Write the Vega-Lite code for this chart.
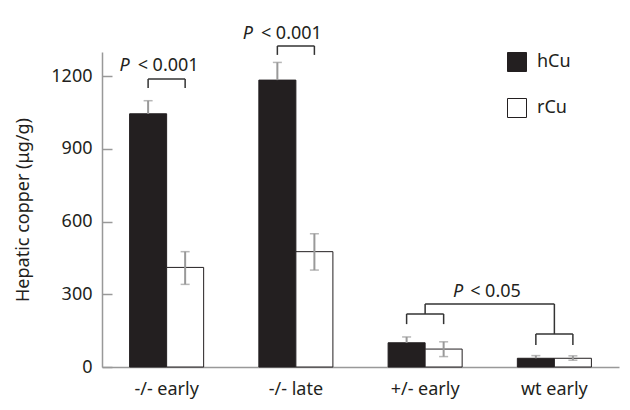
{
  "$schema": "https://vega.github.io/schema/vega-lite/v6.json",
  "width": 517,
  "height": 315,
  "autosize": {"type": "none"},
  "padding": {"left": 102, "top": 52, "right": 11, "bottom": 43},
  "background": "white",
  "config": {
    "view": {"stroke": null},
    "font": "Noto Sans",
    "axis": {"grid": false}
  },
  "datasets": {
    "bars": [
      {"group": "-/- early", "series": "hCu", "value": 1045, "lo": 1045, "hi": 1099},
      {"group": "-/- early", "series": "rCu", "value": 411, "lo": 341, "hi": 476},
      {"group": "-/- late", "series": "hCu", "value": 1184, "lo": 1184, "hi": 1257},
      {"group": "-/- late", "series": "rCu", "value": 476, "lo": 400, "hi": 550},
      {"group": "+/- early", "series": "hCu", "value": 100, "lo": 100, "hi": 124},
      {"group": "+/- early", "series": "rCu", "value": 74, "lo": 43, "hi": 104},
      {"group": "wt early", "series": "hCu", "value": 36, "lo": 36, "hi": 47},
      {"group": "wt early", "series": "rCu", "value": 36, "lo": 28, "hi": 46}
    ],
    "legs": [
      {"group": "-/- early", "series": "hCu", "y1": 1151, "y2": 1189},
      {"group": "-/- early", "series": "rCu", "y1": 1151, "y2": 1189},
      {"group": "-/- late", "series": "hCu", "y1": 1288, "y2": 1325},
      {"group": "-/- late", "series": "rCu", "y1": 1288, "y2": 1325},
      {"group": "+/- early", "series": "hCu", "y1": 177, "y2": 219},
      {"group": "+/- early", "series": "rCu", "y1": 177, "y2": 219},
      {"group": "wt early", "series": "hCu", "y1": 91, "y2": 136},
      {"group": "wt early", "series": "rCu", "y1": 91, "y2": 136}
    ],
    "tops": [
      {"group": "-/- early", "y": 1189},
      {"group": "-/- late", "y": 1325},
      {"group": "+/- early", "y": 219},
      {"group": "wt early", "y": 136}
    ],
    "stems": [
      {"group": "+/- early", "y1": 219, "y2": 260},
      {"group": "wt early", "y1": 136, "y2": 260}
    ],
    "span": [
      {"from": "+/- early", "to": "wt early", "y": 260}
    ],
    "pEarly": [{"group": "-/- early", "y": 1222, "p": "P", "rest": "< 0.001"}],
    "pLate": [{"group": "-/- late", "y": 1352, "p": "P", "rest": "< 0.001"}],
    "pHet": [{"group": "+/- early", "y": 290, "p": "P", "rest": "< 0.05"}]
  },
  "layer": [
    {
      "data": {"name": "bars"},
      "mark": {"type": "bar", "stroke": "#231f20", "strokeWidth": 1},
      "encoding": {
        "x": {
          "field": "group", "type": "nominal",
          "scale": {"domain": ["-/- early", "-/- late", "+/- early", "wt early"], "paddingInner": 0.427, "paddingOuter": 0.2135},
          "axis": {
            "title": null, "labelAngle": 0, "ticks": false, "labelPadding": 13,
            "labelFontSize": 18, "labelColor": "#231f20", "domainColor": "#999999", "domainWidth": 1.5
          }
        },
        "xOffset": {"field": "series", "type": "nominal", "scale": {"paddingInner": 0, "paddingOuter": 0}},
        "y": {
          "field": "value", "type": "quantitative",
          "scale": {"domain": [0, 1300], "nice": false},
          "axis": {
            "title": "Hepatic copper (μg/g)", "values": [0, 300, 600, 900, 1200], "format": "d",
            "tickSize": -10, "labelPadding": 20, "tickColor": "#999999", "tickWidth": 1.5,
            "domainColor": "#999999", "domainWidth": 1.5,
            "labelFontSize": 18, "labelColor": "#231f20",
            "titleFontSize": 18, "titleFontWeight": "normal", "titleColor": "#231f20",
            "titleX": -74, "titleBaseline": "alphabetic"
          }
        },
        "color": {
          "field": "series", "type": "nominal",
          "scale": {"domain": ["hCu", "rCu"], "range": ["#231f20", "#ffffff"]},
          "legend": {
            "title": null, "orient": "none", "legendX": 405, "legendY": 0,
            "symbolType": "square", "symbolSize": 361, "symbolStrokeColor": "#231f20",
            "symbolStrokeWidth": 1, "labelFontSize": 18, "labelColor": "#231f20",
            "labelOffset": 10, "rowPadding": 22, "padding": 0
          }
        }
      }
    },
    {
      "data": {"name": "bars"},
      "mark": {"type": "rule", "color": "#999999", "strokeWidth": 2},
      "encoding": {
        "x": {"field": "group", "type": "nominal"},
        "xOffset": {"field": "series", "type": "nominal"},
        "y": {"field": "lo", "type": "quantitative"},
        "y2": {"field": "hi"}
      }
    },
    {
      "data": {"name": "bars"},
      "mark": {"type": "tick", "color": "#999999", "size": 9, "thickness": 1.5},
      "encoding": {
        "x": {"field": "group", "type": "nominal"},
        "xOffset": {"field": "series", "type": "nominal"},
        "y": {"field": "hi", "type": "quantitative"}
      }
    },
    {
      "data": {"name": "bars"},
      "transform": [{"filter": "datum.series == 'rCu'"}],
      "mark": {"type": "tick", "color": "#999999", "size": 9, "thickness": 1.5},
      "encoding": {
        "x": {"field": "group", "type": "nominal"},
        "xOffset": {"field": "series", "type": "nominal"},
        "y": {"field": "lo", "type": "quantitative"}
      }
    },
    {
      "data": {"name": "legs"},
      "mark": {"type": "rule", "color": "#333333", "strokeWidth": 1.5},
      "encoding": {
        "x": {"field": "group", "type": "nominal"},
        "xOffset": {"field": "series", "type": "nominal"},
        "y": {"field": "y1", "type": "quantitative"},
        "y2": {"field": "y2"}
      }
    },
    {
      "data": {"name": "tops"},
      "mark": {"type": "rule", "color": "#333333", "strokeWidth": 1.5},
      "encoding": {
        "x": {"field": "group", "type": "nominal", "bandPosition": 0.25},
        "x2": {"field": "group", "bandPosition": 0.75},
        "y": {"field": "y", "type": "quantitative"}
      }
    },
    {
      "data": {"name": "stems"},
      "mark": {"type": "rule", "color": "#333333", "strokeWidth": 1.5},
      "encoding": {
        "x": {"field": "group", "type": "nominal", "bandPosition": 0.5},
        "y": {"field": "y1", "type": "quantitative"},
        "y2": {"field": "y2"}
      }
    },
    {
      "data": {"name": "span"},
      "mark": {"type": "rule", "color": "#333333", "strokeWidth": 1.5},
      "encoding": {
        "x": {"field": "from", "type": "nominal", "bandPosition": 0.5},
        "x2": {"field": "to", "bandPosition": 0.5},
        "y": {"field": "y", "type": "quantitative"}
      }
    },
    {
      "data": {"name": "pEarly"},
      "mark": {"type": "text", "fontStyle": "italic", "fontSize": 18, "align": "right", "baseline": "alphabetic", "dx": -37, "color": "#231f20"},
      "encoding": {"x": {"field": "group", "type": "nominal"}, "y": {"field": "y", "type": "quantitative"}, "text": {"field": "p"}}
    },
    {
      "data": {"name": "pEarly"},
      "mark": {"type": "text", "fontSize": 18, "align": "left", "baseline": "alphabetic", "dx": -29, "color": "#231f20"},
      "encoding": {"x": {"field": "group", "type": "nominal"}, "y": {"field": "y", "type": "quantitative"}, "text": {"field": "rest"}}
    },
    {
      "data": {"name": "pLate"},
      "mark": {"type": "text", "fontStyle": "italic", "fontSize": 18, "align": "right", "baseline": "alphabetic", "dx": -43, "color": "#231f20"},
      "encoding": {"x": {"field": "group", "type": "nominal"}, "y": {"field": "y", "type": "quantitative"}, "text": {"field": "p"}}
    },
    {
      "data": {"name": "pLate"},
      "mark": {"type": "text", "fontSize": 18, "align": "left", "baseline": "alphabetic", "dx": -35, "color": "#231f20"},
      "encoding": {"x": {"field": "group", "type": "nominal"}, "y": {"field": "y", "type": "quantitative"}, "text": {"field": "rest"}}
    },
    {
      "data": {"name": "pHet"},
      "mark": {"type": "text", "fontStyle": "italic", "fontSize": 18, "align": "right", "baseline": "alphabetic", "dx": 38, "color": "#231f20"},
      "encoding": {"x": {"field": "group", "type": "nominal"}, "y": {"field": "y", "type": "quantitative"}, "text": {"field": "p"}}
    },
    {
      "data": {"name": "pHet"},
      "mark": {"type": "text", "fontSize": 18, "align": "left", "baseline": "alphabetic", "dx": 45, "color": "#231f20"},
      "encoding": {"x": {"field": "group", "type": "nominal"}, "y": {"field": "y", "type": "quantitative"}, "text": {"field": "rest"}}
    }
  ]
}
